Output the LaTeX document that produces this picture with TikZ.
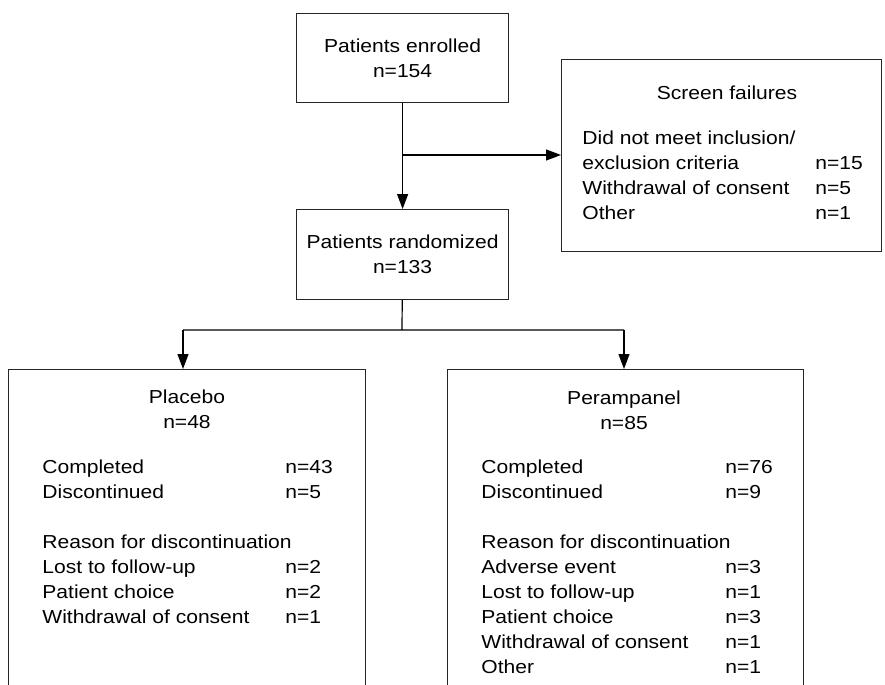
\documentclass[tikz,border=0pt]{standalone}
\usepackage{fontspec}
\setmainfont{Liberation Sans}[FakeStretch=1.12]
\usetikzlibrary{arrows.meta}
\newcommand\rowfont{\fontsize{9.4pt}{12.5pt}\selectfont}

\begin{document}
\begin{tikzpicture}[
  x=0.5pt,y=-0.5pt,
  every node/.style={font=\rowfont},
  box/.style={
    draw=black!85,
    line width=0.6pt,
    anchor=north west,
    inner sep=0pt,
  },
  row/.style={
    anchor=west,
    inner sep=0pt,
    text height=6.6pt,
    text depth=0pt,
  },
  arr/.style={
    draw=black,
    line width=0.6pt,
    -{Triangle[length=7.5pt,width=5.5pt]},
  },
  ]
  \useasboundingbox (0,0) rectangle (885,685);
  \clip (0,0) rectangle (885,685);

  % boxes
  \node[box,align=center,minimum width=106pt,minimum height=44.5pt]
    (enrolled) at (296,13) {Patients enrolled\\n=154};
  \node[box,align=center,minimum width=106pt,minimum height=45pt]
    (randomized) at (296,209) {Patients randomized\\n=133};
  \node[box,minimum width=160pt,minimum height=96pt] (screen) at (561,59) {};
  \node[box,minimum width=178.5pt,minimum height=170pt] (placebo) at (8,369) {};
  \node[box,minimum width=178pt,minimum height=170pt] (perampanel) at (447,369) {};

  % screen failures
  \node[row,anchor=center] (scr0) at (727,93) {Screen failures};
  \foreach[count=\i] \y/\txt/\n in
  {138/{Did not meet inclusion/}/{},163/exclusion criteria/n=15,
   188/Withdrawal of consent/n=5,213/Other/n=1}
  {
    \node[row] (scr\i) at (582,\y) {\txt};
    \node[row] (scrn\i) at (815,\y) {\n};
  }

  % placebo arm
  \node[row,anchor=center] (plc0) at (187,397) {Placebo};
  \node[row,anchor=center] (plcn0) at (187,422) {n=48};
  \foreach[count=\i] \y/\txt/\n in
  {467/Completed/n=43,492/Discontinued/n=5,542/Reason for discontinuation/{},
   567/Lost to follow-up/n=2,592/Patient choice/n=2,617/Withdrawal of consent/n=1}
  {
    \node[row] (plc\i) at (42,\y) {\txt};
    \node[row] (plcn\i) at (285,\y) {\n};
  }

  % perampanel arm
  \node[row,anchor=center] (per0) at (624,398) {Perampanel};
  \node[row,anchor=center] (pern0) at (624,423) {n=85};
  \foreach[count=\i] \y/\txt/\n in
  {467/Completed/n=76,492/Discontinued/n=9,542/Reason for discontinuation/{},
   567/Adverse event/n=3,592/Lost to follow-up/n=1,617/Patient choice/n=3,
   642/Withdrawal of consent/n=1,667/Other/n=1}
  {
    \node[row] (per\i) at (481,\y) {\txt};
    \node[row] (pern\i) at (725,\y) {\n};
  }

  % connectors
  \coordinate (split) at (402,155);
  \coordinate (fork) at (402,330);
  \coordinate (forkL) at (183,330);
  \coordinate (forkR) at (624,330);
  \draw[arr] (enrolled) -- (randomized);
  \draw[arr] (split) -- (split -| screen.west);
  \draw[line width=0.6pt] (randomized) -- (fork) (forkL) -- (forkR);
  \draw[arr] (forkL) -- (forkL |- placebo.north);
  \draw[arr] (forkR) -- (forkR |- perampanel.north);
\end{tikzpicture}
\end{document}
